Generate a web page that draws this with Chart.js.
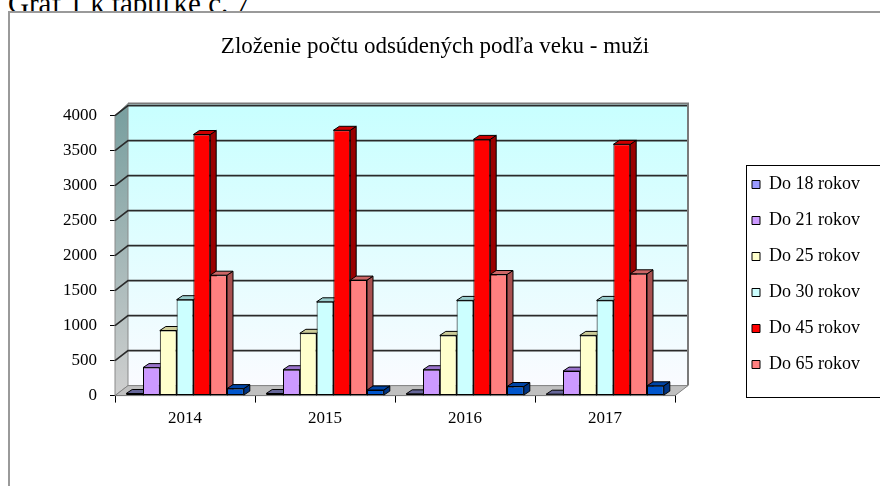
<!DOCTYPE html>
<html>
<head>
<meta charset="utf-8">
<script src="https://cdn.jsdelivr.net/npm/chart.js@4/dist/chart.umd.min.js"></script>
<style>
  html, body { margin: 0; padding: 0; background: #fff; overflow: hidden; }
  #page { position: relative; width: 880px; height: 486px; overflow: hidden; }
  #caption { position: absolute; left: 8px; top: -11px; font: 29px/29px "Liberation Serif", serif; color: #000; white-space: nowrap; }
  #frame { position: absolute; left: 8px; top: 11px; width: 900px; height: 500px; border: 2px solid #9a9a9a; }
  #wrap { position: absolute; left: 0; top: 0; width: 880px; height: 486px; }
</style>
</head>
<body>
<div id="page">
  <div id="caption">Graf 1 k tabuľke č. 7</div>
  <div id="frame"></div>
  <div id="wrap"><canvas id="myChart" width="880" height="486"></canvas></div>
</div>
<script>
'use strict';

let years = ['2014', '2015', '2016', '2017'];
let do18 = [30, 30, 25, 20];
let do21 = [400, 370, 370, 350];
let do25 = [930, 890, 860, 860];
let do30 = [1370, 1340, 1360, 1360];
let do45 = [3730, 3790, 3660, 3590];
let do65 = [1720, 1650, 1730, 1740];
let nad65 = [100, 80, 130, 140];
let yTicks = [0, 500, 1000, 1500, 2000, 2500, 3000, 3500, 4000];

// depth of the walls and of each bar
let wallDx = 13, wallDy = -10;
let barDx = 6, barDy = -4;
// legend and title get moved a bit after layout
let legendShiftX = 59, legendShiftY = 57;
let titleShiftX = -30;
let legendPad = 18;

let serif = '"Liberation Serif", "Times New Roman", serif';

function makeSet(label, values, front, side, top) {
  return {
    label: label,
    data: values,
    backgroundColor: front,
    borderColor: '#000',
    borderWidth: 1,
    borderSkipped: false,
    sideColor: side,
    topColor: top
  };
}

let threeD = {
  id: 'threeD',
  afterUpdate(chart) {
    let lg = chart.legend;
    lg.left += legendShiftX;
    lg.right += legendShiftX;
    lg.top += legendShiftY;
    lg.bottom += legendShiftY;
    let t = chart.titleBlock;
    if (t) {
      t.left += titleShiftX;
      t.right += titleShiftX;
    }
  },
  beforeDatasetsDraw(chart) {
    let ctx = chart.ctx;
    let ca = chart.chartArea;
    let yScale = chart.scales.y;
    let L = ca.left, R = ca.right, T = ca.top, B = ca.bottom;
    ctx.save();

    // back wall
    let g = ctx.createLinearGradient(0, T + wallDy, 0, B + wallDy);
    g.addColorStop(0, '#c8ffff');
    g.addColorStop(1, '#fafbff');
    ctx.fillStyle = g;
    ctx.fillRect(L + wallDx, T + wallDy - 2, R - L, B - T + 2);

    // left side wall
    let g2 = ctx.createLinearGradient(0, T, 0, B);
    g2.addColorStop(0, '#7aa0a0');
    g2.addColorStop(1, '#cfcfcf');
    ctx.fillStyle = g2;
    ctx.beginPath();
    ctx.moveTo(L, T);
    ctx.lineTo(L + wallDx, T + wallDy - 2);
    ctx.lineTo(L + wallDx, B + wallDy);
    ctx.lineTo(L, B);
    ctx.closePath();
    ctx.fill();
    ctx.strokeStyle = '#8a8a8a';
    ctx.lineWidth = 1;
    ctx.stroke();

    // floor
    ctx.fillStyle = '#c0c0c0';
    ctx.beginPath();
    ctx.moveTo(L, B);
    ctx.lineTo(L + wallDx, B + wallDy);
    ctx.lineTo(R + wallDx, B + wallDy);
    ctx.lineTo(R, B);
    ctx.closePath();
    ctx.fill();
    ctx.strokeStyle = '#808080';
    ctx.stroke();

    // gridlines on the side wall and back wall
    ctx.strokeStyle = '#2a2a2a';
    ctx.lineWidth = 1.6;
    yTicks.forEach(function (v) {
      if (v === 0) return;
      let y = yScale.getPixelForValue(v);
      ctx.beginPath();
      ctx.moveTo(L, y);
      ctx.lineTo(L + wallDx, y + wallDy);
      ctx.lineTo(R + wallDx, y + wallDy);
      ctx.stroke();
    });
    // top edge and right edge of the back wall
    ctx.strokeStyle = '#7a7a7a';
    ctx.lineWidth = 2;
    ctx.beginPath();
    ctx.moveTo(L + wallDx, T + wallDy - 2);
    ctx.lineTo(R + wallDx, T + wallDy - 2);
    ctx.lineTo(R + wallDx, B + wallDy);
    ctx.stroke();

    // side and top faces of bars, drawn behind the front faces
    ctx.lineWidth = 1;
    ctx.strokeStyle = '#000';
    chart.data.datasets.forEach(function (ds, i) {
      let meta = chart.getDatasetMeta(i);
      meta.data.forEach(function (bar) {
        let p = bar.getProps(['x', 'y', 'base', 'width'], true);
        let x0 = p.x - p.width / 2, x1 = p.x + p.width / 2;
        let top = p.y, base = p.base;
        // side
        ctx.fillStyle = ds.sideColor;
        ctx.beginPath();
        ctx.moveTo(x1, top);
        ctx.lineTo(x1 + barDx, top + barDy);
        ctx.lineTo(x1 + barDx, base + barDy);
        ctx.lineTo(x1, base);
        ctx.closePath();
        ctx.fill();
        ctx.stroke();
        // top
        ctx.fillStyle = ds.topColor;
        ctx.beginPath();
        ctx.moveTo(x0, top);
        ctx.lineTo(x0 + barDx, top + barDy);
        ctx.lineTo(x1 + barDx, top + barDy);
        ctx.lineTo(x1, top);
        ctx.closePath();
        ctx.fill();
        ctx.stroke();
      });
    });
    ctx.restore();
  },
  afterDraw(chart) {
    // frame round the legend
    let lg = chart.legend;
    if (!lg || !lg.legendHitBoxes.length) return;
    let first = lg.legendHitBoxes[0];
    let last = lg.legendHitBoxes[lg.legendHitBoxes.length - 1];
    let ctx = chart.ctx;
    ctx.save();
    ctx.strokeStyle = '#000';
    ctx.lineWidth = 1;
    let x = Math.round(lg.left + legendPad - 6) + 0.5;
    let y = Math.round(first.top + legendShiftY + first.height / 2 - 20) + 0.5;
    let yb = Math.round(last.top + legendShiftY + last.height / 2 + 32) + 0.5;
    ctx.strokeRect(x, y, chart.width + 10 - x, yb - y);
    ctx.restore();
  }
};

let ctx = document.getElementById('myChart').getContext('2d');
let chart = new Chart(ctx, {
  type: 'bar',
  data: {
    labels: years,
    datasets: [
      makeSet('Do 18 rokov', do18, '#9999ff', '#4d4d80', '#666699'),
      makeSet('Do 21 rokov', do21, '#cc99ff', '#7a5c99', '#9973cc'),
      makeSet('Do 25 rokov', do25, '#ffffcc', '#99997a', '#cccc99'),
      makeSet('Do 30 rokov', do30, '#ccffff', '#7a9999', '#99cccc'),
      makeSet('Do 45 rokov', do45, '#ff0000', '#990000', '#cc0000'),
      makeSet('Do 65 rokov', do65, '#ff8080', '#a85050', '#cc6666'),
      makeSet('Nad 65 rokov', nad65, '#0055cc', '#003380', '#0044a6')
    ]
  },
  options: {
    responsive: false,
    animation: false,
    devicePixelRatio: 1,
    layout: { padding: { left: 50, right: 0, top: 0, bottom: 51 } },
    datasets: {
      bar: { categoryPercentage: 0.84, barPercentage: 1 }
    },
    plugins: {
      title: {
        display: true,
        text: 'Zloženie počtu odsúdených podľa veku - muži',
        color: '#000',
        font: { family: serif, size: 23, weight: 'normal', lineHeight: 1.2 },
        padding: { top: 33, bottom: 55 }
      },
      legend: {
        position: 'right',
        labels: {
          color: '#000',
          font: { family: serif, size: 18 },
          boxWidth: 8,
          boxHeight: 8,
          padding: legendPad,
          filter: function (item) { return item.datasetIndex < 6; }
        }
      },
      tooltip: { enabled: false }
    },
    scales: {
      x: {
        grid: { drawOnChartArea: false, tickLength: 7, color: '#000' },
        border: { color: '#000', width: 1 },
        ticks: { color: '#000', padding: 6, font: { family: serif, size: 17 } },
        afterFit: function (scale) { scale.paddingRight = 205; }
      },
      y: {
        min: 0,
        max: 4000,
        grid: { drawOnChartArea: false, tickLength: 5, color: '#000' },
        border: { color: '#000', width: 1 },
        ticks: {
          color: '#000',
          stepSize: 500,
          padding: 13,
          font: { family: serif, size: 17 },
          callback: function (v) { return String(v); }
        }
      }
    }
  },
  plugins: [threeD]
});
</script>
</body>
</html>
